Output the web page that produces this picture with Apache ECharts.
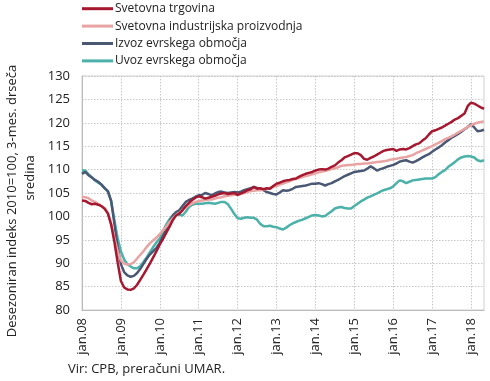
<!DOCTYPE html>
<html>
<head>
<meta charset="utf-8">
<script src="https://cdn.jsdelivr.net/npm/echarts@6/dist/echarts.min.js"></script>
<style>
html,body{margin:0;padding:0;background:#fff;}
#c{width:490px;height:381px;}
</style>
</head>
<body>
<div id="c"></div>
<script>
var monthNames = ['jan','feb','mar','apr','maj','jun','jul','avg','sep','okt','nov','dec'];
var years = ['08','09','10','11','12','13','14','15','16','17','18'];
var lastYearMonths = 5;

var seriesNames = ['Svetovna trgovina','Svetovna industrijska proizvodnja','Izvoz evrskega območja','Uvoz evrskega območja'];

var svetovnaTrgovina = [
103.4,103.3,102.9,102.6,102.7,102.5,102.2,101.6,100.6,98.2,94.5,90.2,
86.2,84.8,84.4,84.3,84.6,85.4,86.5,87.6,88.8,90.0,91.3,92.6,
94.0,95.2,96.5,97.8,99.2,100.2,100.6,101.3,102.2,102.9,103.5,104.0,
104.3,104.1,103.8,104.0,104.2,104.4,104.7,104.9,105.0,104.8,104.9,105.0,
104.6,104.9,105.2,105.6,105.8,106.3,105.9,106.0,105.8,106.0,105.9,106.5,
107.0,107.2,107.5,107.7,107.8,108.0,108.1,108.5,108.8,109.1,109.3,109.5,
109.8,110.0,110.1,110.0,110.2,110.6,110.9,111.5,112.0,112.6,112.9,113.2,
113.5,113.5,113.1,112.3,112.1,112.5,112.8,113.2,113.6,114.0,114.2,114.3,
114.4,114.0,114.3,114.4,114.3,114.6,115.0,115.4,115.6,116.2,116.7,117.5,
118.2,118.4,118.7,119.0,119.4,119.8,120.2,120.7,121.0,121.5,122.0,123.6,
124.3,124.1,123.7,123.3,123.0
];
var industrijskaProizvodnja = [
104.2,104.1,103.9,103.4,103.1,102.7,102.2,101.8,100.7,98.5,95.3,92.5,
90.6,89.9,89.7,89.8,90.2,91.0,91.8,92.6,93.5,94.3,94.9,95.5,
96.2,97.0,97.8,98.8,99.6,100.3,100.8,101.4,101.9,102.4,102.8,103.1,
103.3,103.4,103.5,103.6,103.6,103.8,104.0,104.1,104.3,104.4,104.5,104.6,
104.6,104.8,105.0,105.2,105.4,105.5,105.6,105.6,105.7,105.9,106.1,106.3,
106.5,106.8,107.0,107.3,107.5,107.8,108.0,108.2,108.4,108.6,108.8,109.0,
109.2,109.4,109.6,109.7,109.9,110.1,110.3,110.5,110.8,110.9,111.0,111.0,
111.1,111.2,111.2,111.3,111.3,111.4,111.5,111.6,111.7,111.8,111.9,112.1,
112.2,112.3,112.5,112.6,112.7,112.9,113.1,113.5,113.8,114.1,114.4,114.7,
115.0,115.4,115.7,116.1,116.5,116.8,117.1,117.5,117.9,118.3,118.7,119.1,
119.5,119.8,120.0,120.2,120.3
];
var izvozEA = [
109.1,109.5,108.8,108.3,107.8,107.4,106.8,106.0,105.4,103.3,98.4,93.4,
89.8,88.1,87.4,87.1,87.3,87.9,88.8,89.9,91.0,91.9,92.6,93.3,
94.4,95.8,97.2,98.9,100.2,100.9,101.3,102.2,103.1,103.5,103.8,104.2,
104.5,104.6,105.0,104.8,104.5,104.9,105.2,105.3,105.1,105.0,105.1,105.2,
105.1,105.3,105.6,105.8,106.0,106.3,106.1,105.9,105.6,105.2,105.0,104.8,
104.7,105.1,105.6,105.5,105.6,105.9,106.3,106.4,106.5,106.6,106.8,107.0,
107.0,107.1,106.9,106.6,106.9,107.1,107.5,107.8,108.2,108.6,108.9,109.2,
109.5,109.6,109.7,109.8,110.2,110.7,110.3,109.8,110.1,110.3,110.6,110.8,
111.0,111.3,111.7,111.9,112.0,111.7,111.5,111.8,112.2,112.6,113.0,113.3,
113.8,114.3,114.7,115.2,115.8,116.3,116.8,117.2,117.6,118.1,118.6,119.1,
119.7,119.0,118.2,118.3,118.5
];
var uvozEA = [
109.8,109.8,109.0,108.4,107.7,107.2,106.8,106.1,105.2,103.2,99.2,95.3,
92.5,90.8,89.8,89.3,88.9,88.9,89.4,90.3,91.3,92.4,93.5,94.5,
95.3,96.8,98.3,99.4,100.2,100.7,100.4,100.2,101.0,102.0,102.5,102.7,
102.7,102.7,102.8,102.9,102.8,102.7,102.9,103.1,103.1,102.6,101.6,100.5,
99.6,99.5,99.7,99.8,99.7,99.7,99.3,98.4,97.9,97.9,98.0,97.8,
97.7,97.4,97.2,97.6,98.1,98.5,98.8,99.1,99.3,99.6,99.9,100.2,
100.3,100.2,100.0,100.1,100.6,101.1,101.7,101.9,102.0,101.8,101.7,101.7,
102.2,102.7,103.2,103.6,104.0,104.3,104.6,104.9,105.3,105.6,105.8,106.0,
106.4,107.1,107.7,107.5,107.1,107.4,107.7,107.8,107.9,108.0,108.1,108.1,
108.1,108.4,109.0,109.5,109.9,110.6,111.1,111.6,112.2,112.6,112.8,112.9,
112.8,112.6,112.0,111.8,112.0
];

var yMin = 80, yMax = 130, yStep = 5;
var yAxisTitle1 = 'Desezoniran indeks 2010=100, 3-mes. drseča';
var yAxisTitle2 = 'sredina';
var sourceText = 'Vir: CPB, preračuni UMAR.';

var colors = ['#A51830','#E8A3A3','#4A5874','#4BB1A9'];

var categories = [];
for (var yi = 0; yi < years.length; yi++) {
  var n = (yi === years.length - 1) ? lastYearMonths : 12;
  for (var mi = 0; mi < n; mi++) categories.push(monthNames[mi] + '.' + years[yi]);
}

var dataSets = [svetovnaTrgovina, industrijskaProizvodnja, izvozEA, uvozEA];
var font = 'Open Sans';

var chart = echarts.init(document.getElementById('c'), null, {renderer:'canvas'});
chart.setOption({
  animation: false,
  backgroundColor: '#fff',
  textStyle: {fontFamily: font},
  grid: {left: 82, right: 6, top: 76, bottom: 71, show: true, borderColor: '#d0d0d0', borderWidth: 1},
  legend: {
    orient: 'vertical', left: 82, top: 0, itemGap: 0, padding: 0,
    itemWidth: 31, itemHeight: 3, icon: 'rect',
    textStyle: {fontFamily: font, fontSize: 12, color: '#222', lineHeight: 17.4, padding: [0,0,0,-3]},
    data: seriesNames
  },
  xAxis: {
    type: 'category', data: categories, boundaryGap: false,
    axisLine: {show: true, lineStyle: {color: '#bbb'}},
    axisTick: {show: false},
    axisLabel: {
      rotate: 90, fontSize: 13, color: '#222', fontFamily: font, margin: 8,
      interval: function (i) { return i % 12 === 0; }
    },
    splitLine: {show: true, interval: function (i) { return i % 12 === 0; },
      lineStyle: {color: '#c8c8c8', type: [1.5,1.5], width: 1}}
  },
  yAxis: {
    type: 'value', min: yMin, max: yMax, interval: yStep,
    axisLine: {show: true, lineStyle: {color: '#bbb'}},
    axisTick: {show: false},
    axisLabel: {fontSize: 13, color: '#222', fontFamily: font, margin: 12},
    splitLine: {show: true, lineStyle: {color: '#c8c8c8', type: [1.5,1.5], width: 1}}
  },
  series: dataSets.map(function (d, i) {
    return {
      name: seriesNames[i], type: 'line', data: d, showSymbol: false, symbol: 'none',
      smooth: false, color: colors[i],
      lineStyle: {width: 2.5, color: colors[i]}, z: 10 - i
    };
  }),
  graphic: [
    {type: 'text', x: 12, y: 201, rotation: Math.PI / 2,
      style: {text: yAxisTitle1, fontFamily: font, fontSize: 13, fill: '#222', align: 'center', verticalAlign: 'middle'}},
    {type: 'text', x: 30, y: 178, rotation: Math.PI / 2,
      style: {text: yAxisTitle2, fontFamily: font, fontSize: 13, fill: '#222', align: 'center', verticalAlign: 'middle'}},
    {type: 'text', left: 68, top: 363,
      style: {text: sourceText, fontFamily: font, fontSize: 13, fill: '#222'}}
  ]
});
</script>
</body>
</html>
